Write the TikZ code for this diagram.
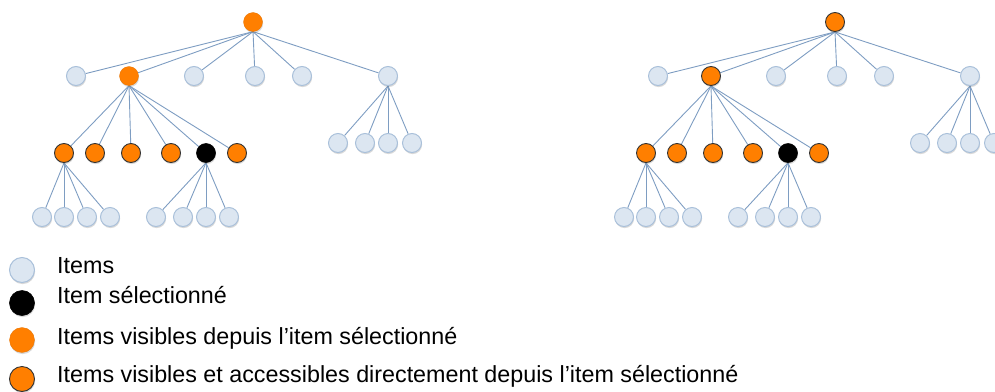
\documentclass[tikz,border=0pt]{standalone}
\usepackage{fontspec}
\setmainfont{Liberation Sans}
\usetikzlibrary{shadows,backgrounds}
\definecolor{lightnode}{HTML}{DCE6F1}
\definecolor{lightborder}{HTML}{A9C0DA}
\definecolor{edgeblue}{HTML}{7E9DC2}
\definecolor{orangefill}{HTML}{FF7F00}
\tikzset{
  nd/.style={circle,minimum size=19pt,inner sep=0pt,
    drop shadow={shadow xshift=0.6pt,shadow yshift=-1.6pt,opacity=0.25,fill=black!60}},
  itm/.style={nd,fill=lightnode,draw=lightborder,line width=1pt},
  sel/.style={nd,fill=black,draw=black,line width=0.6pt},
  vis/.style={nd,fill=orangefill,draw=orangefill!90!black,line width=0.3pt},
  acc/.style={nd,fill=orangefill,draw=black!80,line width=0.9pt},
  edge/.style={draw=edgeblue,line width=0.9pt},
  legtext/.style={anchor=base west,inner sep=0pt,font=\fontsize{23.3}{26}\selectfont},
  big/.style={minimum size=25pt}
}
\newcommand{\mytree}[3]{%
  % #1 prefix, #2 x offset, #3 style for root and a2
  \begin{scope}[xshift=#2]
  \node[#3] (#1r) at (253,22) {};
  \node[itm] (#1a1) at (76,76) {};
  \node[#3] (#1a2) at (129,76) {};
  \node[itm] (#1a3) at (194,76) {};
  \node[itm] (#1a4) at (255,76) {};
  \node[itm] (#1a5) at (302,76) {};
  \node[itm] (#1a6) at (388,76) {};
  \node[acc] (#1b1) at (64,153) {};
  \node[acc] (#1b2) at (95,153) {};
  \node[acc] (#1b3) at (131,153) {};
  \node[acc] (#1b4) at (171,153) {};
  \node[sel] (#1b5) at (206,153) {};
  \node[acc] (#1b6) at (237,153) {};
  \node[itm] (#1c1) at (338,143) {};
  \node[itm] (#1c2) at (365,143) {};
  \node[itm] (#1c3) at (388,143) {};
  \node[itm] (#1c4) at (412,143) {};
  \node[itm] (#1d1) at (42,217) {};
  \node[itm] (#1d2) at (64,217) {};
  \node[itm] (#1d3) at (87,217) {};
  \node[itm] (#1d4) at (110,217) {};
  \node[itm] (#1e1) at (156,217) {};
  \node[itm] (#1e2) at (183,217) {};
  \node[itm] (#1e3) at (206,217) {};
  \node[itm] (#1e4) at (229,217) {};
  \end{scope}
  \begin{scope}[on background layer]
  \foreach \c in {a1,a2,a3,a4,a5,a6} \draw[edge] (#1r.south) -- (#1\c);
  \foreach \c in {b1,b2,b3,b4,b5,b6} \draw[edge] (#1a2.south) -- (#1\c);
  \foreach \c in {c1,c2,c3,c4} \draw[edge] (#1a6.south) -- (#1\c);
  \foreach \c in {d1,d2,d3,d4} \draw[edge] (#1b1.south) -- (#1\c);
  \foreach \c in {e1,e2,e3,e4} \draw[edge] (#1b5.south) -- (#1\c);
  \end{scope}
}
\begin{document}
\begin{tikzpicture}[x=1pt,y=-1pt]
\useasboundingbox (0,0) rectangle (995,391);
\mytree{L}{0pt}{vis}
\mytree{R}{582pt}{acc}
% legend
\node[itm,big] (k1) at (22,270) {};
\node[sel,big] (k2) at (22,303) {};
\node[vis,big] (k3) at (22,340) {};
\node[acc,big] (k4) at (22,379) {};
\node[legtext] (t1) at (57,273) {Items};
\node[legtext] (t2) at (57,303) {Item sélectionné};
\node[legtext] (t3) at (57,344) {Items visibles depuis l’item sélectionné};
\node[legtext] (t4) at (57,382) {Items visibles et accessibles directement depuis l’item sélectionné};
\end{tikzpicture}
\end{document}
